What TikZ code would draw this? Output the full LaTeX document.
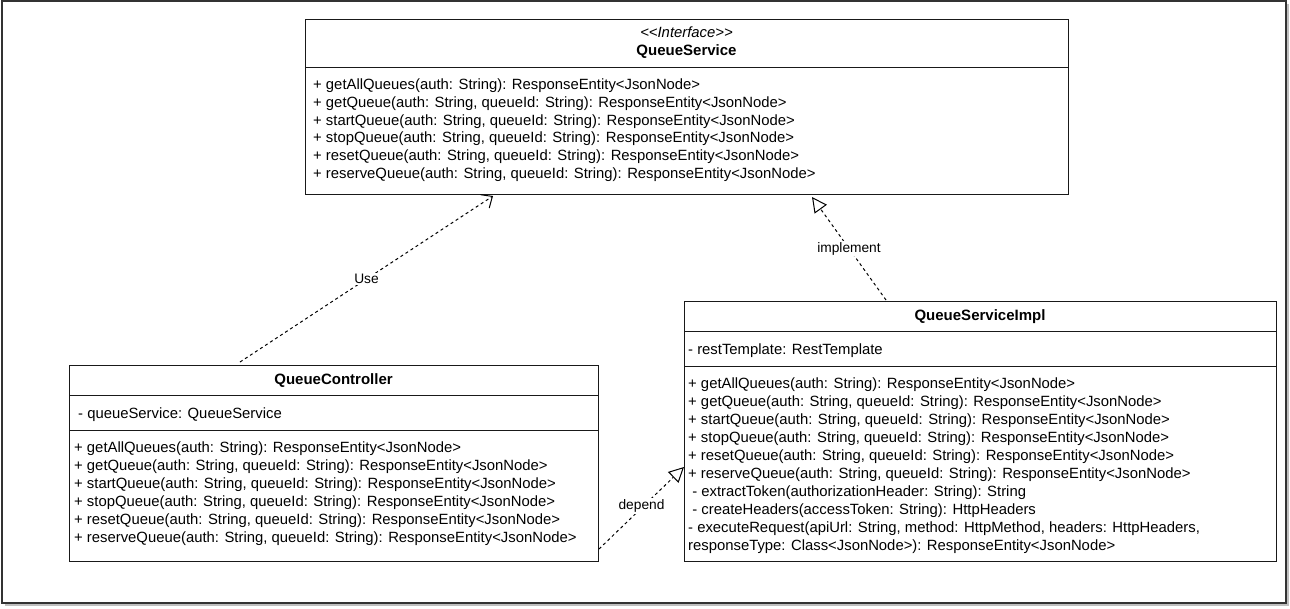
\documentclass[tikz,border=0pt]{standalone}
\usepackage{fontspec}
\setmainfont{Liberation Sans}
\usetikzlibrary{arrows.meta,calc}
\begin{document}
\begin{tikzpicture}[x=1pt,y=-1pt,
  comp/.style={draw=black!90, line width=1pt, rectangle, inner sep=0pt, anchor=north west},
  txt/.style={inner sep=0pt, anchor=north west, align=left, font=\fontsize{14.85}{17.8}\selectfont},
  txtb/.style={inner sep=0pt, anchor=north west, align=left, font=\fontsize{14.85}{18}\selectfont},
  one/.style={inner sep=0pt, anchor=base west, font=\fontsize{14.85}{18}\selectfont},
  ttl/.style={inner sep=0pt, anchor=base, font=\fontsize{15}{18}\selectfont\bfseries},
  rel/.style={draw=black, line width=1pt, dash pattern=on 3pt off 3pt},
  lbl/.style={fill=white, inner sep=1.5pt, font=\fontsize{13.75}{16}\selectfont},
  tri/.style={-{Triangle[length=15pt,width=15pt,fill=white,line width=1pt]}},
  barb/.style={-{Straight Barb[length=9pt,width=16pt,line width=1pt]}}
]
\useasboundingbox (0,0) rectangle (1290,608);
% outer frame with shadow
\fill[black!25] (5,4) rectangle (1289,606);
\draw[draw=black!80, line width=1.5pt, fill=white] (2,1) rectangle (1286,603);

% QueueService
\node[comp, minimum width=763pt, minimum height=48pt] (qsHead) at (305,19) {};
\node[comp, minimum width=763pt, minimum height=127pt] (qsOps) at (305,67) {};
\node[inner sep=0pt, anchor=base, font=\fontsize{14.85}{18}\selectfont\itshape] (qsSt) at (686.5,37) {<{}<Interface>{}>};
\node[ttl] (qsName) at (686.5,55.5) {QueueService};
\node[txt] (qsM) at (313,78.6) {+ getAllQueues(auth: String): ResponseEntity<JsonNode>\\
+ getQueue(auth: String, queueId: String): ResponseEntity<JsonNode>\\
+ startQueue(auth: String, queueId: String): ResponseEntity<JsonNode>\\
+ stopQueue(auth: String, queueId: String): ResponseEntity<JsonNode>\\
+ resetQueue(auth: String, queueId: String): ResponseEntity<JsonNode>\\
+ reserveQueue(auth: String, queueId: String): ResponseEntity<JsonNode>};

% QueueController
\node[comp, minimum width=529pt, minimum height=30pt] (qcHead) at (69,365) {};
\node[comp, minimum width=529pt, minimum height=35pt] (qcAttr) at (69,395) {};
\node[comp, minimum width=529pt, minimum height=131pt] (qcOps) at (69,430) {};
\node[ttl] (qcName) at (333.5,384.5) {QueueController};
\node[one] (qcA) at (78,418.5) {- queueService: QueueService};
\node[txtb] (qcM) at (74,441.5) {+ getAllQueues(auth: String): ResponseEntity<JsonNode>\\
+ getQueue(auth: String, queueId: String): ResponseEntity<JsonNode>\\
+ startQueue(auth: String, queueId: String): ResponseEntity<JsonNode>\\
+ stopQueue(auth: String, queueId: String): ResponseEntity<JsonNode>\\
+ resetQueue(auth: String, queueId: String): ResponseEntity<JsonNode>\\
+ reserveQueue(auth: String, queueId: String): ResponseEntity<JsonNode>};

% QueueServiceImpl
\node[comp, minimum width=592pt, minimum height=30pt] (isHead) at (684,301) {};
\node[comp, minimum width=592pt, minimum height=35pt] (isAttr) at (684,331) {};
\node[comp, minimum width=592pt, minimum height=195pt] (isOps) at (684,366) {};
\node[ttl] (isName) at (980,320.5) {QueueServiceImpl};
\node[one] (isA) at (688,354.5) {- restTemplate: RestTemplate};
\node[txtb] (isM) at (688,377.5) {+ getAllQueues(auth: String): ResponseEntity<JsonNode>\\
+ getQueue(auth: String, queueId: String): ResponseEntity<JsonNode>\\
+ startQueue(auth: String, queueId: String): ResponseEntity<JsonNode>\\
+ stopQueue(auth: String, queueId: String): ResponseEntity<JsonNode>\\
+ resetQueue(auth: String, queueId: String): ResponseEntity<JsonNode>\\
+ reserveQueue(auth: String, queueId: String): ResponseEntity<JsonNode>\\
\ - extractToken(authorizationHeader: String): String\\
\ - createHeaders(accessToken: String): HttpHeaders\\
- executeRequest(apiUrl: String, method: HttpMethod, headers: HttpHeaders,\\
responseType: Class<JsonNode>): ResponseEntity<JsonNode>};

% relations
\draw[rel, barb] ($(qcHead.north west)+(171,-3)$) -- node[lbl] (lUse) {Use} ($(qsOps.south west)+(188,1)$);
\draw[rel, tri] ($(isHead.north west)+(202,-1)$) -- node[lbl, pos=0.5] (lImpl) {implement} ($(qsOps.south west)+(507,2)$);
\draw[rel, tri] ($(qcOps.south east)+(0,-13)$) -- node[lbl, pos=0.5, yshift=2pt] (lDep) {depend} ($(isOps.north west)+(0,101)$);
\end{tikzpicture}
\end{document}
